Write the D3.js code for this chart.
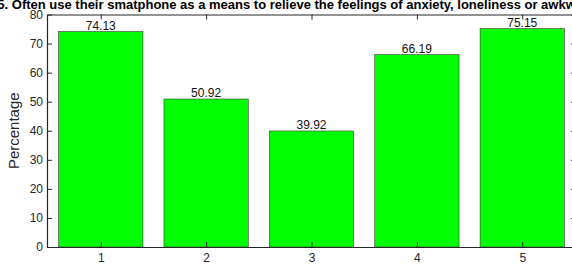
<!DOCTYPE html>
<html>
<head>
<meta charset="utf-8">
<script src="https://cdn.jsdelivr.net/npm/d3@7"></script>
<style>
  body { margin: 0; background: #fff; }
  svg { display: block; font-family: "Liberation Sans", Arial, sans-serif; }
</style>
</head>
<body>
<div id="chart"></div>
<script>
const categories = [1, 2, 3, 4, 5]
const values = [74.13, 50.92, 39.92, 66.19, 75.15]
const yTicks = [0, 10, 20, 30, 40, 50, 60, 70, 80]
const title = '5. Often use their smatphone as a means to relieve the feelings of anxiety, loneliness or awkwardness'

const width = 572
const height = 265
const margin = { top: 14.5, right: -4, bottom: 18, left: 47 }
const boundedWidth = width - margin.left - margin.right
const boundedHeight = height - margin.top - margin.bottom

const svg = d3.select('#chart').append('svg')
  .attr('width', width)
  .attr('height', height)

const bounds = svg.append('g')
  .attr('transform', `translate(${margin.left},${margin.top})`)

const xScale = d3.scaleLinear().domain([0.49, 5.51]).range([0, boundedWidth])
const yScale = d3.scaleLinear().domain([0, 80]).range([boundedHeight, 0])
const barWidth = xScale(1.8) - xScale(1)
const axisColor = '#262626'

// bars
bounds.selectAll('.bar')
  .data(values)
  .join('rect')
  .attr('class', 'bar')
  .attr('x', (d, i) => xScale(categories[i]) - barWidth / 2)
  .attr('y', (d) => yScale(d))
  .attr('width', barWidth)
  .attr('height', (d) => boundedHeight - yScale(d))
  .attr('fill', '#00ff00')
  .attr('stroke', '#3a3a3a')
  .attr('stroke-width', 0.6)

// value labels
bounds.selectAll('.val')
  .data(values)
  .join('text')
  .attr('class', 'val')
  .attr('x', (d, i) => xScale(categories[i]))
  .attr('y', (d) => yScale(d) - 2)
  .attr('text-anchor', 'middle')
  .attr('fill', '#111')
  .style('font-size', '12px')
  .text((d) => d.toFixed(2))

// axes, MATLAB style box with inward ticks
const tickLen = 5
const xAxis = bounds.append('g')
  .attr('transform', `translate(0,${boundedHeight})`)
  .call(d3.axisBottom(xScale).tickValues(categories).tickFormat(d3.format('d')).tickSize(-tickLen).tickPadding(6).tickSizeOuter(0))
const xTop = bounds.append('g')
  .call(d3.axisTop(xScale).tickValues(categories).tickSize(-tickLen).tickSizeOuter(0))
const yAxis = bounds.append('g')
  .call(d3.axisLeft(yScale).tickValues(yTicks).tickFormat(d3.format('d')).tickSize(-tickLen).tickPadding(4).tickSizeOuter(0))
const yRight = bounds.append('g')
  .attr('transform', `translate(${boundedWidth},0)`)
  .call(d3.axisRight(yScale).tickValues(yTicks).tickSize(-tickLen).tickSizeOuter(0))

xTop.selectAll('.tick text').remove()
yRight.selectAll('.tick text').remove()
;[xAxis, xTop, yAxis, yRight].forEach((g) => {
  g.select('.domain').attr('stroke', axisColor).attr('stroke-width', 1.2)
  g.selectAll('.tick line').attr('stroke', axisColor)
  g.selectAll('.tick text').attr('fill', axisColor).style('font-size', '12px')
})

// y label
svg.append('text')
  .attr('transform', `translate(19,${margin.top + boundedHeight / 2}) rotate(-90)`)
  .attr('text-anchor', 'middle')
  .attr('fill', axisColor)
  .style('font-size', '15px')
  .text('Percentage')

// title
svg.append('text')
  .attr('x', margin.left + boundedWidth / 2)
  .attr('y', 9)
  .attr('text-anchor', 'middle')
  .attr('fill', '#000')
  .style('font-size', '13px')
  .style('font-weight', 'bold')
  .text(title)
</script>
</body>
</html>
